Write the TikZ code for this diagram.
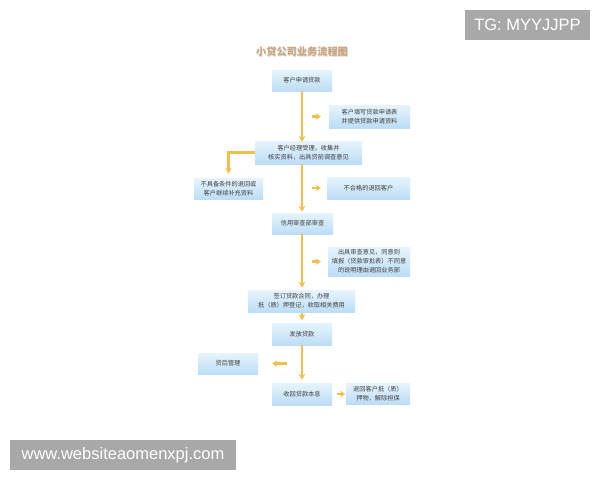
\documentclass[tikz,border=0pt]{standalone}
\usepackage{fontspec}
\setmainfont{Liberation Sans}
\newfontfamily\cjk{Noto Sans CJK SC}
\usetikzlibrary{arrows.meta, positioning, shapes}
\definecolor{boxtop}{HTML}{E6F4FD}
\definecolor{boxbot}{HTML}{BCDDF5}
\definecolor{gold}{HTML}{F2C04A}
\definecolor{tan}{HTML}{C9A57E}
\definecolor{mark}{HTML}{A8A8A8}

\begin{document}
\begin{tikzpicture}[x=1pt, y=-1pt,
    box/.style={rectangle, top color=boxtop, bottom color=boxbot, inner sep=1pt, align=center, text=black!75, font=\cjk\fontsize{6.2}{9}\selectfont},
    flow/.style={draw=gold, line width=2.3pt, -{Stealth[length=6pt, width=6.5pt]}},
    side/.style={draw=gold, line width=2.3pt, -{Stealth[length=5pt, width=6.5pt]}},
    tag/.style={rectangle, fill=mark, text=white, font=\fontsize{16.5}{18}\selectfont}
]
\useasboundingbox (0,0) rectangle (600,480);
\fill[white] (0,0) rectangle (600,480);

% title
\node[text=black!15, font=\cjk\bfseries\fontsize{10.2}{12}\selectfont] at (302.6,52.6) {小贷公司业务流程图};
\node[text=tan, font=\cjk\bfseries\fontsize{10.2}{12}\selectfont] (title) at (302,52) {小贷公司业务流程图};

% main column
\node[box, minimum width=60pt, minimum height=21pt] (apply) at (302,80.5) {客户申请贷款};
\node[box, minimum width=107pt, minimum height=23pt] (review) at (308.5,152.5) {客户经理受理，收集并\\核实资料，出具贷前调查意见};
\node[box, minimum width=61pt, minimum height=21pt] (credit) at (302.5,223.5) {信用审查部审查};
\node[box, minimum width=107pt, minimum height=22pt] (contract) at (301.5,301) {签订贷款合同，办理\\抵（质）押登记，收取相关费用};
\node[box, minimum width=60pt, minimum height=22pt] (disburse) at (302,334) {发放贷款};
\node[box, minimum width=60pt, minimum height=22pt] (recover) at (302,394) {收回贷款本息};

% side boxes
\node[box, minimum width=81pt, minimum height=23pt] (fillform) at (369.5,116.5) {客户填写贷款申请表\\并提供贷款申请资料};
\node[box, minimum width=69pt, minimum height=21pt] (supplement) at (228.5,188.5) {不具备条件的退回或\\客户继续补充资料};
\node[box, minimum width=83pt, minimum height=22pt] (reject) at (368.5,188) {不合格的退回客户};
\node[box, minimum width=82pt, minimum height=29pt] (opinion) at (369,261.5) {出具审查意见，同意则\\填报（贷款审批表）不同意\\的说明理由退回业务部};
\node[box, minimum width=60pt, minimum height=21pt] (postloan) at (228,363.5) {贷后管理};
\node[box, minimum width=64pt, minimum height=21pt] (release) at (378,393.5) {退回客户抵（质）\\押物，解除担保};

% connectors
\draw[flow] (apply.south) -- ([yshift=-1pt]apply.south |- review.north);
\draw[flow] (apply.south |- review.south) -- ([yshift=1pt]apply.south |- credit.north);
\draw[flow] (apply.south |- credit.south) -- ([yshift=2pt]apply.south |- contract.north);
\draw[flow] ([yshift=-1pt]apply.south |- contract.south) -- ([yshift=2.5pt]disburse.north);
\draw[flow] (disburse.south) -- ([yshift=3pt]recover.north);
\draw[flow, shorten >=4pt] (review.west) -| (supplement.north);

\draw[side] ([xshift=-17pt]fillform.west) -- ([xshift=-8pt]fillform.west);
\draw[side] ([xshift=-15pt]reject.west) -- ([xshift=-6pt]reject.west);
\draw[side] ([xshift=-16pt]opinion.west) -- ([xshift=-7pt]opinion.west);
\draw[side] ([xshift=29pt]postloan.east) -- ([xshift=14pt]postloan.east);
\draw[side] ([xshift=5pt]recover.east) -- ([xshift=13pt]recover.east);

% watermarks
\node[tag, minimum width=125pt, minimum height=30pt] (tg) at (527.5,25) {TG: MYYJJPP};
\node[tag, minimum width=226pt, minimum height=30pt] (site) at (123,455) {www.websiteaomenxpj.com};
\end{tikzpicture}
\end{document}
